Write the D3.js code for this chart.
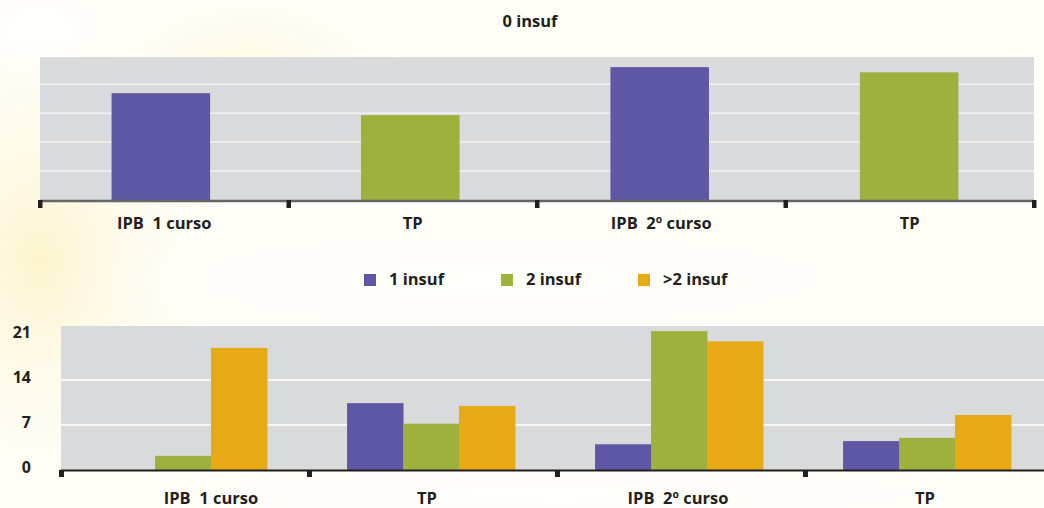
<!DOCTYPE html>
<html>
<head>
<meta charset="utf-8">
<script src="https://cdn.jsdelivr.net/npm/d3@7"></script>
<style>
  html, body { margin: 0; padding: 0; background: #fffef8; }
  svg { display: block; }
  text { font-family: "Open Sans", "DejaVu Sans", sans-serif; font-weight: 700; fill: #231f20; white-space: pre; }
</style>
</head>
<body>
<svg id="chart" width="1044" height="508"></svg>
<script>
// ---- data ----
const topTitle = "0 insuf";
const categories = ["IPB  1 curso", "TP", "IPB  2º curso", "TP"];
const topValues = [36.9, 29.3, 45.9, 44.1];
const topColors = ["#5e57a4", "#9db13c", "#5e57a4", "#9db13c"];
const topGridTicks = [10, 20, 30, 40];

const seriesNames = ["1 insuf", "2 insuf", ">2 insuf"];
const seriesColors = ["#5e57a4", "#9db13c", "#e8aa14"];
const insuf1 = [0, 10.4, 4.0, 4.5];
const insuf2 = [2.2, 7.2, 21.6, 5.0];
const insufMore = [19.0, 9.95, 20.0, 8.55];
const bottomTickLabels = [0, 7, 14, 21];
const bottomGridTicks = [7, 14];

(function () {
const FS = 16.5;
const svg = d3.select("#chart");

// ---- background: faint warm glow on the left ----
const defs = svg.append("defs");
const g1 = defs.append("radialGradient").attr("id", "glow1").attr("cx", "0.5").attr("cy", "0.5").attr("r", "0.5");
g1.append("stop").attr("offset", "0").attr("stop-color", "#fbf3c8").attr("stop-opacity", 0.9);
g1.append("stop").attr("offset", "1").attr("stop-color", "#fffef8").attr("stop-opacity", 0);
const g2 = defs.append("radialGradient").attr("id", "glow2").attr("cx", "0.5").attr("cy", "0.5").attr("r", "0.5");
g2.append("stop").attr("offset", "0").attr("stop-color", "#ffffff").attr("stop-opacity", 1);
g2.append("stop").attr("offset", "1").attr("stop-color", "#ffffff").attr("stop-opacity", 0);

svg.append("rect").attr("width", 1044).attr("height", 508).attr("fill", "#fffef8");
svg.append("ellipse").attr("cx", 40).attr("cy", 260).attr("rx", 200).attr("ry", 280).attr("fill", "url(#glow1)");
svg.append("ellipse").attr("cx", 250).attr("cy", 70).attr("rx", 200).attr("ry", 110).attr("fill", "url(#glow1)").attr("opacity", 0.5);
svg.append("ellipse").attr("cx", 40).attr("cy", 30).attr("rx", 70).attr("ry", 50).attr("fill", "url(#glow2)");
svg.append("ellipse").attr("cx", 500).attr("cy", 280).attr("rx", 460).attr("ry", 60).attr("fill", "url(#glow2)").attr("opacity", 0.7);
svg.append("ellipse").attr("cx", 560).attr("cy", 495).attr("rx", 520).attr("ry", 30).attr("fill", "url(#glow2)").attr("opacity", 0.7);

// ---- top chart ----
const T = { left: 40, right: 1034, top: 57, bottom: 200 };
const xTop = d3.scaleBand().domain(d3.range(categories.length)).range([T.left - 2, T.right - 2]).paddingInner(0.605).paddingOuter(0.295);
const xTopGroups = d3.scaleBand().domain(d3.range(categories.length)).range([T.left, T.right]).padding(0);
const yTop = d3.scaleLinear().domain([0, 49.4]).range([T.bottom, T.top]);

const topG = svg.append("g");
topG.append("rect").attr("x", T.left).attr("y", T.top).attr("width", T.right - T.left).attr("height", T.bottom - T.top).attr("fill", "#d9dadc");
topG.selectAll("line.grid").data(topGridTicks).join("line")
  .attr("x1", T.left).attr("x2", T.right)
  .attr("y1", d => yTop(d)).attr("y2", d => yTop(d))
  .attr("stroke", "#f2f2f2").attr("stroke-width", 1.5);
topG.selectAll("rect.bar").data(topValues).join("rect")
  .attr("x", (d, i) => xTop(i)).attr("width", xTop.bandwidth())
  .attr("y", d => yTop(d)).attr("height", d => yTop(0) - yTop(d))
  .attr("fill", (d, i) => topColors[i]);
topG.append("line").attr("x1", T.left).attr("x2", T.right).attr("y1", T.bottom + 1).attr("y2", T.bottom + 1)
  .attr("stroke", "#666666").attr("stroke-width", 2.5);
const topTickPos = d3.range(categories.length + 1).map(i => i < categories.length ? xTopGroups(i) : T.right);
topG.selectAll("rect.tick").data(topTickPos).join("rect")
  .attr("x", d => d - 2).attr("y", T.bottom).attr("width", 4.5).attr("height", 8).attr("fill", "#231f20");
topG.selectAll("text.cat").data(categories).join("text")
  .attr("x", (d, i) => xTopGroups(i) + xTopGroups.bandwidth() / 2).attr("y", 229)
  .attr("text-anchor", "middle").attr("font-size", FS).text(d => d);
topG.append("text").attr("x", 530).attr("y", 27).attr("text-anchor", "middle").attr("font-size", FS).text(topTitle);

// ---- legend ----
const legendX = [364, 501, 638];
const legend = svg.append("g");
seriesNames.forEach((name, i) => {
  legend.append("rect").attr("x", legendX[i]).attr("y", 274).attr("width", 12).attr("height", 12).attr("fill", seriesColors[i]);
  legend.append("text").attr("x", legendX[i] + 25).attr("y", 285).attr("font-size", FS).text(name);
});

// ---- bottom chart ----
const B = { left: 61, right: 1053, top: 326, bottom: 470 };
const seriesData = [insuf1, insuf2, insufMore];
const x0 = d3.scaleBand().domain(d3.range(categories.length)).range([B.left, B.right]).padding(0);
const x1 = d3.scaleBand().domain(d3.range(seriesNames.length)).range([0, x0.bandwidth() - 4]).paddingInner(0).paddingOuter(0.68);
const yBot = d3.scaleLinear().domain([0, 22.4]).range([B.bottom, B.top]);
const bottomLabelShift = [26, -6, -3, -4];

const bot = svg.append("g");
bot.append("rect").attr("x", B.left).attr("y", B.top).attr("width", B.right - B.left).attr("height", B.bottom - B.top).attr("fill", "#d9dadc");
bot.selectAll("line.grid").data(bottomGridTicks).join("line")
  .attr("x1", B.left).attr("x2", B.right)
  .attr("y1", d => yBot(d)).attr("y2", d => yBot(d))
  .attr("stroke", "#ffffff").attr("stroke-width", 1.5);
const groups = bot.selectAll("g.grp").data(categories).join("g").attr("transform", (d, i) => `translate(${x0(i)},0)`);
groups.selectAll("rect").data((d, i) => seriesData.map((s, k) => ({ k, v: s[i] }))).join("rect")
  .attr("x", d => x1(d.k)).attr("width", x1.bandwidth() + 0.5)
  .attr("y", d => yBot(d.v)).attr("height", d => yBot(0) - yBot(d.v))
  .attr("fill", d => seriesColors[d.k]);
bot.append("line").attr("x1", B.left).attr("x2", B.right).attr("y1", B.bottom + 0.5).attr("y2", B.bottom + 0.5)
  .attr("stroke", "#231f20").attr("stroke-width", 2);
const botTickPos = d3.range(categories.length + 1).map(i => i < categories.length ? x0(i) : B.right);
bot.selectAll("rect.tick").data(botTickPos).join("rect")
  .attr("x", d => d - 2).attr("y", B.bottom).attr("width", 5).attr("height", 7).attr("fill", "#231f20");
bot.selectAll("text.cat").data(categories).join("text")
  .attr("x", (d, i) => x0(i) + x0.bandwidth() / 2 + bottomLabelShift[i]).attr("y", 504)
  .attr("text-anchor", "middle").attr("font-size", FS).text(d => d);
bot.selectAll("text.ylab").data(bottomTickLabels).join("text")
  .attr("x", 31).attr("y", d => yBot(d) + 3)
  .attr("text-anchor", "end").attr("font-size", 16).text(d => d);
})();
</script>
</body>
</html>
